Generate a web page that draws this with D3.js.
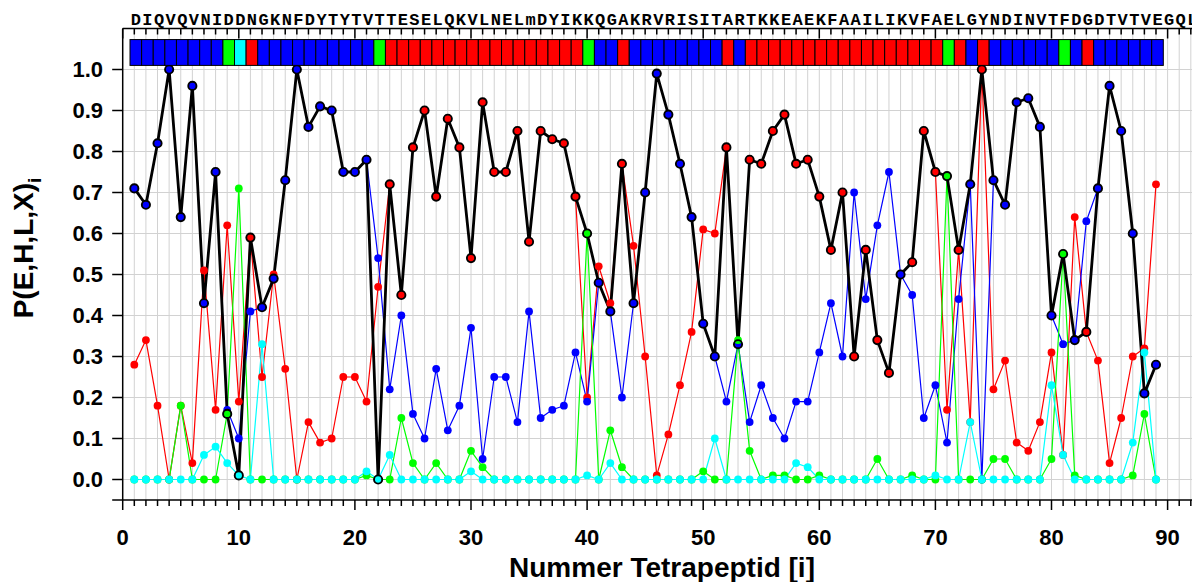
<!DOCTYPE html>
<html>
<head>
<meta charset="utf-8">
<script src="https://cdn.jsdelivr.net/npm/d3@7"></script>
<style>
  html, body { margin: 0; padding: 0; background: #fff; }
  svg { display: block; }
</style>
</head>
<body>
<svg id="chart" width="1192" height="582"></svg>
<script>
// Amino-acid sequence; tetrapeptide i starts at residue i
const sequence = "DIQVQVNIDDNGKNFDYTYTVTTESELQKVLNELmDYIKKQGAKRVRISITARTKKEAEKFAAILIKVFAELGYNDINVTFDGDTVTVEGQL";

// Observed class per tetrapeptide (1..89)
const classes = [
  "E","E","E","E","E","E","E","E","L","X",
  "H","E","E","E","E","E","E","E","E","E",
  "E","L","H","H","H","H","H","H","H","H",
  "H","H","H","H","H","H","H","H","H","L",
  "E","E","H","E","E","E","E","E","E","E",
  "E","H","E","H","H","H","H","H","H","H",
  "H","H","H","H","H","H","H","H","H","H",
  "L","H","E","H","E","E","E","E","E","E",
  "L","E","H","E","E","E","E","E","E"
];

// Predicted probabilities per tetrapeptide i = 1..89
const pH = [
  0.28,0.34,0.18,0.00,0.18,0.04,0.51,0.17,0.62,0.19,
  0.59,0.25,0.50,0.27,0.00,0.14,0.09,0.10,0.25,0.25,
  0.19,0.47,0.72,0.45,0.81,0.90,0.69,0.88,0.81,0.54,
  0.92,0.75,0.75,0.85,0.58,0.85,0.83,0.82,0.69,0.20,
  0.52,0.43,0.77,0.57,0.30,0.01,0.11,0.23,0.36,0.61,
  0.60,0.81,0.33,0.78,0.77,0.85,0.89,0.77,0.78,0.69,
  0.56,0.70,0.30,0.56,0.34,0.26,0.50,0.53,0.85,0.75,
  0.17,0.56,0.14,1.00,0.22,0.29,0.09,0.07,0.14,0.31,
  0.06,0.64,0.36,0.29,0.04,0.15,0.30,0.32,0.72
];
const pE = [
  0.71,0.67,0.82,1.00,0.64,0.96,0.43,0.75,0.17,0.10,
  0.41,0.42,0.49,0.73,1.00,0.86,0.91,0.90,0.75,0.75,
  0.78,0.54,0.22,0.40,0.16,0.10,0.27,0.12,0.18,0.37,
  0.05,0.25,0.25,0.14,0.41,0.15,0.17,0.18,0.31,0.19,
  0.48,0.41,0.20,0.43,0.70,0.99,0.89,0.77,0.64,0.38,
  0.30,0.19,0.33,0.14,0.23,0.15,0.10,0.19,0.19,0.31,
  0.43,0.30,0.70,0.44,0.62,0.75,0.50,0.45,0.15,0.23,
  0.09,0.44,0.72,0.00,0.73,0.67,0.92,0.93,0.86,0.40,
  0.33,0.34,0.63,0.71,0.96,0.85,0.60,0.21,0.28
];
const pL = [
  0.00,0.00,0.00,0.00,0.18,0.00,0.00,0.00,0.16,0.71,
  0.00,0.00,0.00,0.00,0.00,0.00,0.00,0.00,0.00,0.00,
  0.01,0.00,0.00,0.15,0.04,0.00,0.04,0.00,0.00,0.07,
  0.03,0.00,0.00,0.00,0.00,0.00,0.00,0.00,0.00,0.60,
  0.00,0.12,0.03,0.00,0.00,0.00,0.00,0.00,0.00,0.02,
  0.00,0.00,0.34,0.07,0.00,0.01,0.01,0.00,0.00,0.01,
  0.00,0.00,0.00,0.00,0.05,0.00,0.00,0.01,0.00,0.00,
  0.74,0.00,0.00,0.00,0.05,0.05,0.00,0.00,0.00,0.05,
  0.55,0.01,0.00,0.00,0.00,0.00,0.01,0.16,0.00
];
const pX = [
  0.00,0.00,0.00,0.00,0.00,0.00,0.06,0.08,0.04,0.01,
  0.00,0.33,0.00,0.00,0.00,0.00,0.00,0.00,0.00,0.00,
  0.02,0.00,0.06,0.00,0.00,0.00,0.00,0.00,0.00,0.02,
  0.00,0.00,0.00,0.00,0.00,0.00,0.00,0.00,0.00,0.01,
  0.00,0.04,0.00,0.00,0.00,0.00,0.00,0.00,0.00,0.00,
  0.10,0.00,0.00,0.00,0.00,0.00,0.00,0.04,0.03,0.00,
  0.00,0.00,0.00,0.00,0.00,0.00,0.00,0.00,0.00,0.01,
  0.00,0.00,0.14,0.00,0.00,0.00,0.00,0.00,0.00,0.23,
  0.06,0.00,0.00,0.00,0.00,0.00,0.09,0.31,0.00
];

const yTicks = [0.0,0.1,0.2,0.3,0.4,0.5,0.6,0.7,0.8,0.9,1.0];
const xTicks = [0,10,20,30,40,50,60,70,80,90];

const colors = { H: "#ff0000", E: "#0000ff", L: "#00ff00", X: "#00ffff" };
const seriesByClass = { H: pH, E: pE, L: pL, X: pX };
const drawOrder = ["H", "E", "L", "X"];

const W = 1192, H = 582;
const svg = d3.select("#chart");
const x = d3.scaleLinear().domain([0, 95]).range([122.7, 122.7 + 95 * 11.61]);
const y = d3.scaleLinear().domain([-0.05, 1.1]).range([500, 28.5]);

const idx = d3.range(1, pH.length + 1);
const observed = idx.map(i => ({ i, cls: classes[i - 1], v: seriesByClass[classes[i - 1]][i - 1] }));

// grid
const grid = svg.append("g").attr("stroke", "#d2d2d2").attr("stroke-width", 1);
grid.selectAll("line.vx").data(d3.range(1, 96)).join("line")
  .attr("x1", d => x(d)).attr("x2", d => x(d))
  .attr("y1", y(1.1)).attr("y2", y(-0.05));
grid.selectAll("line.hy").data(yTicks).join("line")
  .attr("x1", x(0)).attr("x2", W)
  .attr("y1", d => y(d)).attr("y2", d => y(d));

// series lines
const line = d3.line().x(d => x(d.i)).y(d => y(d.v));
drawOrder.forEach(k => {
  const pts = seriesByClass[k].map((v, j) => ({ i: j + 1, v }));
  svg.append("path").datum(pts)
    .attr("d", line).attr("fill", "none")
    .attr("stroke", colors[k]).attr("stroke-width", 1.2)
    .attr("stroke-linejoin", "round");
});

// observed-class probability line
svg.append("path").datum(observed)
  .attr("d", line).attr("fill", "none")
  .attr("stroke", "#000").attr("stroke-width", 2.8)
  .attr("stroke-linejoin", "round");

// series markers
drawOrder.forEach(k => {
  svg.append("g").selectAll("circle")
    .data(seriesByClass[k].map((v, j) => ({ i: j + 1, v })))
    .join("circle")
    .attr("cx", d => x(d.i)).attr("cy", d => y(d.v)).attr("r", 3.9)
    .attr("fill", colors[k]);
});

// rings on the observed-class line
svg.append("g").selectAll("circle").data(observed).join("circle")
  .attr("cx", d => x(d.i)).attr("cy", d => y(d.v)).attr("r", 4.1)
  .attr("fill", "none").attr("stroke", "#000").attr("stroke-width", 1.9);

// class strip
svg.append("g").selectAll("rect").data(observed).join("rect")
  .attr("x", d => x(d.i - 0.37)).attr("width", x(1) - x(0))
  .attr("y", y(1.073)).attr("height", y(1.01) - y(1.073))
  .attr("fill", d => colors[d.cls])
  .attr("stroke", "#000").attr("stroke-width", 1);

// sequence letters
svg.append("g").selectAll("text").data(sequence.split("")).join("text")
  .attr("x", (c, j) => x(j + 1 + 0.13)).attr("y", 25)
  .attr("text-anchor", "middle")
  .attr("font-family", "'Liberation Mono', 'Courier New', monospace")
  .attr("font-weight", "bold").attr("font-size", 17)
  .text(c => c);

// axes
const ax = svg.append("g").attr("stroke", "#000").attr("stroke-width", 1.5);
// left
ax.append("line").attr("x1", x(0)).attr("x2", x(0)).attr("y1", y(1.1)).attr("y2", y(-0.05));
ax.selectAll("line.yt").data(yTicks).join("line")
  .attr("x1", x(0) - 10.5).attr("x2", x(0)).attr("y1", d => y(d)).attr("y2", d => y(d));
// top
ax.append("line").attr("x1", x(0)).attr("x2", W).attr("y1", y(1.1)).attr("y2", y(1.1));
ax.selectAll("line.tt").data(d3.range(0, 96)).join("line")
  .attr("x1", d => x(d)).attr("x2", d => x(d))
  .attr("y1", y(1.1)).attr("y2", d => y(1.1) + (d % 10 === 0 ? 10 : 6));
// bottom
ax.append("line").attr("x1", x(0) - 10.5).attr("x2", W).attr("y1", y(-0.05)).attr("y2", y(-0.05));
ax.selectAll("line.bt").data(d3.range(0, 96)).join("line")
  .attr("x1", d => x(d)).attr("x2", d => x(d))
  .attr("y1", y(-0.05)).attr("y2", d => y(-0.05) + (d % 10 === 0 ? 10 : 6));

const labelFont = "'Liberation Sans', Arial, sans-serif";
svg.append("g").selectAll("text").data(yTicks).join("text")
  .attr("x", 103).attr("y", d => y(d)).attr("dy", "0.36em")
  .attr("text-anchor", "end")
  .attr("font-family", labelFont).attr("font-weight", "bold").attr("font-size", 22)
  .text(d => d.toFixed(1));
svg.append("g").selectAll("text").data(xTicks).join("text")
  .attr("x", d => x(d)).attr("y", 545)
  .attr("text-anchor", "middle")
  .attr("font-family", labelFont).attr("font-weight", "bold").attr("font-size", 22)
  .text(d => d);

// axis titles
svg.append("text")
  .attr("x", 662).attr("y", 577).attr("text-anchor", "middle")
  .attr("font-family", labelFont).attr("font-weight", "bold").attr("font-size", 28)
  .text("Nummer Tetrapeptid [i]");
const yt = svg.append("text")
  .attr("transform", "translate(33,248) rotate(-90)")
  .attr("text-anchor", "middle")
  .attr("font-family", labelFont).attr("font-weight", "bold").attr("font-size", 28);
yt.append("tspan").text("P(E,H,L,X)");
yt.append("tspan").attr("dy", 8).attr("font-size", 19).text("i");
</script>
</body>
</html>
